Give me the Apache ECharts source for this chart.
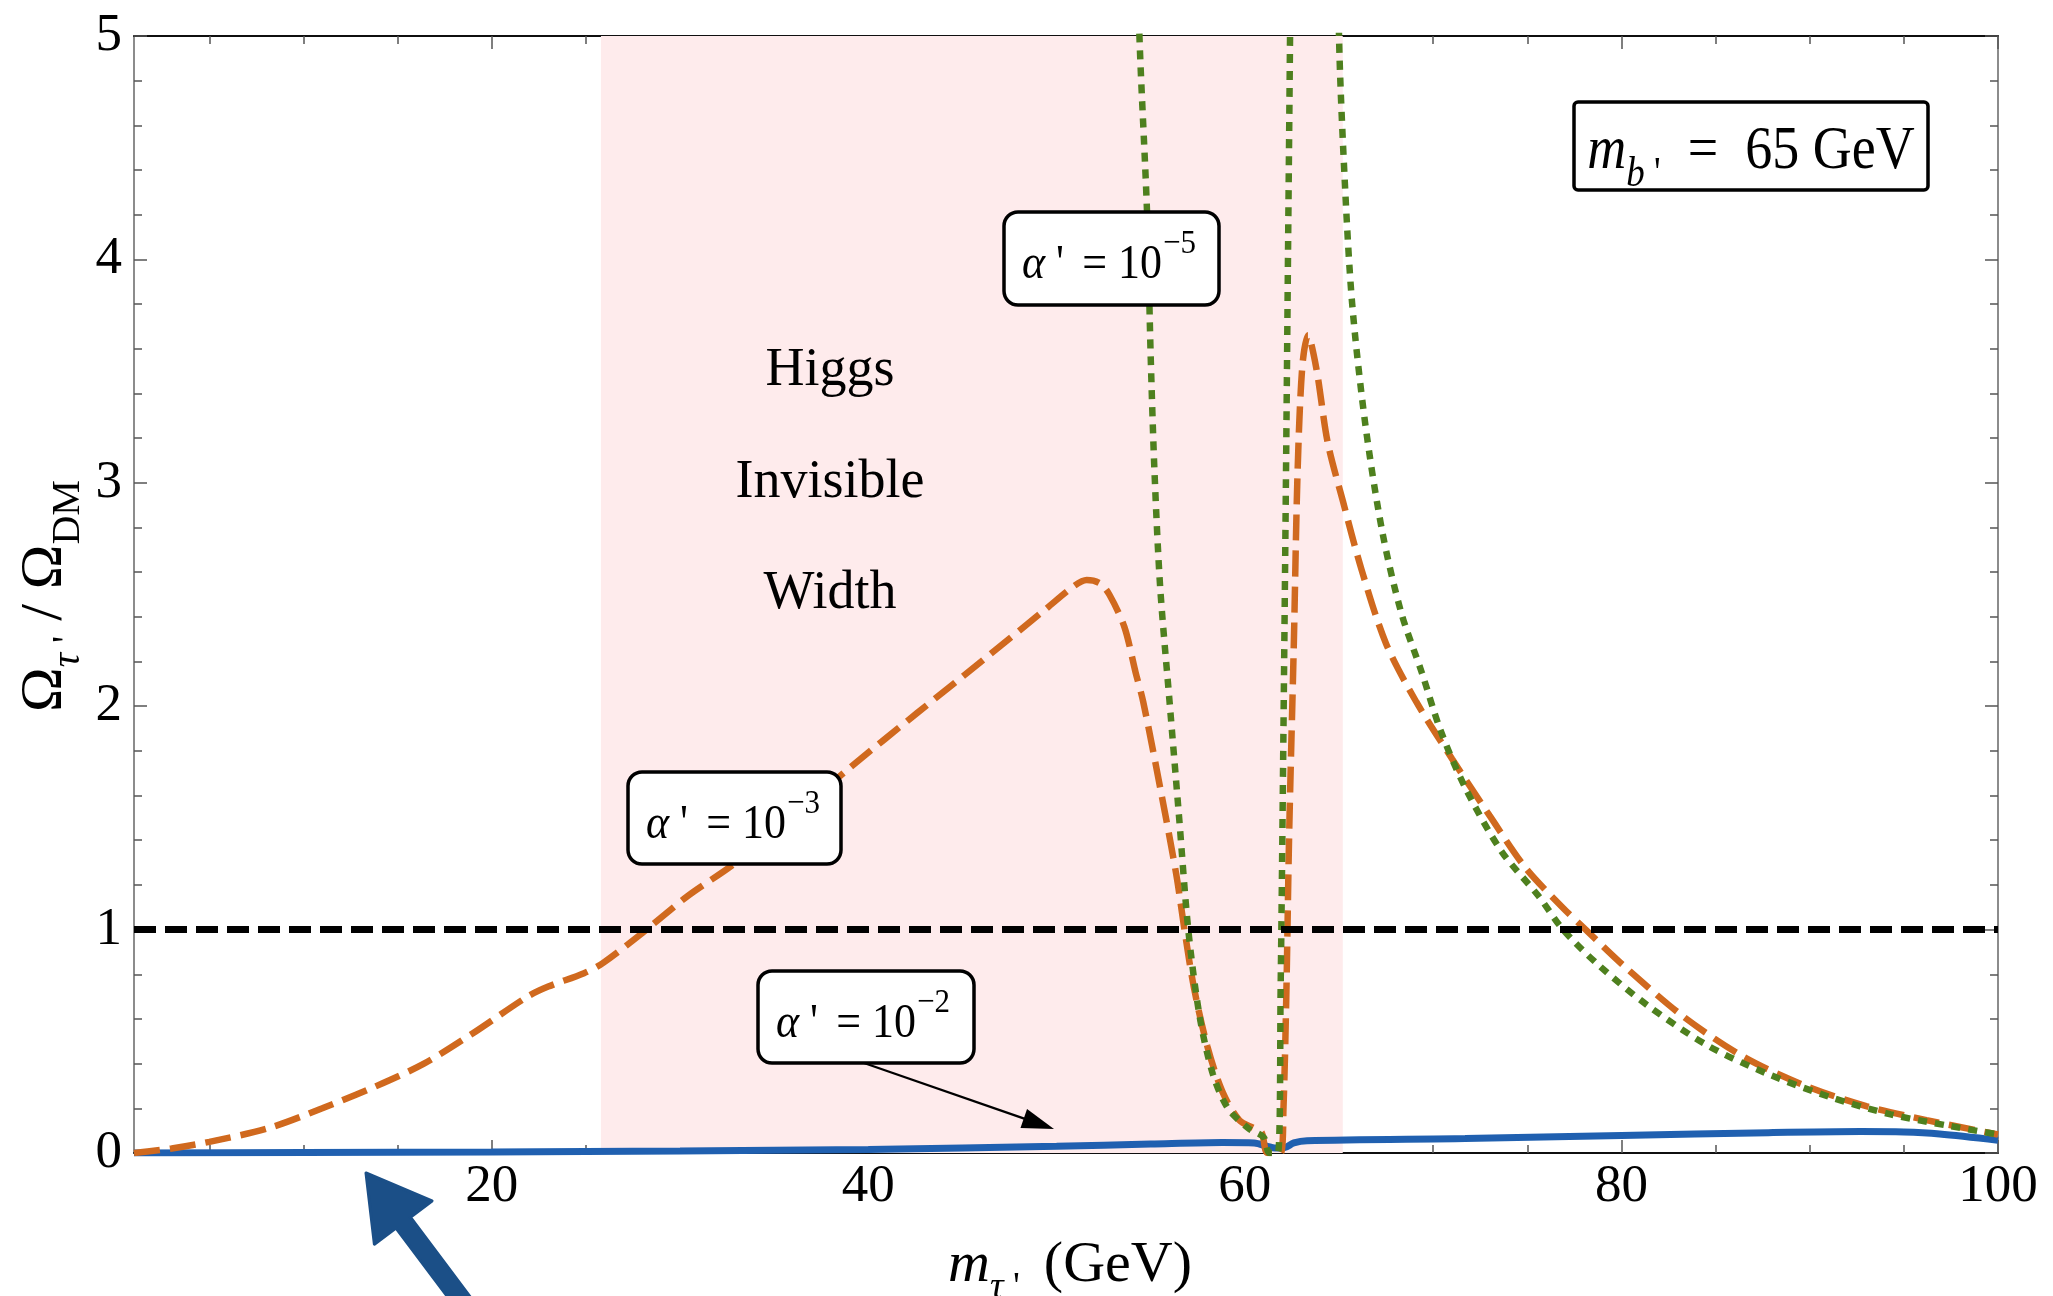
<!DOCTYPE html>
<html><head><meta charset="utf-8">
<script src="https://cdn.jsdelivr.net/npm/echarts@6/dist/echarts.min.js"></script>
<style>html,body{margin:0;padding:0;background:#fff}#c{width:2053px;height:1296px}</style>
</head><body><div id="c"></div>
<script>
// ---------- data ----------
const xRange = [1, 100];
const yRange = [0, 5];
const xMajorTicks = [20, 40, 60, 80, 100];
const xMinorTicks = [5, 10, 15, 25, 30, 35, 45, 50, 55, 65, 70, 75, 85, 90, 95];
const yTickInterval = 1;
const higgsBand = [25.8, 65.2];
const thresholdX = [1, 100];
const thresholdY = [1, 1];

// alpha' = 1e-2 (solid blue)
const alpha2X = [1, 10, 20, 30, 40, 50, 55, 58.8, 60.5, 61.2, 61.6, 62.1, 62.6, 63.3, 71.7, 80, 87.8, 92.7, 95, 96.9, 100];
const alpha2Y = [0, 0.002, 0.005, 0.009, 0.016, 0.03, 0.04, 0.047, 0.045, 0.03, 0.022, 0.024, 0.045, 0.055, 0.065, 0.078, 0.091, 0.096, 0.094, 0.085, 0.057];

// alpha' = 1e-3 (dashed orange)
const alpha3X = [1, 3, 5, 8.1, 11, 13.8, 16.4, 19, 21.9, 23, 24.9, 25.9, 28, 30.4, 32.8, 35.6, 39.1, 42.6, 46, 49.5, 50.8, 51.6, 52.3, 52.8, 53.6, 54.2, 54.6, 55.5, 56.35, 56.8, 57.3, 58, 58.8, 59.7, 60.5, 60.9, 61.2, 61.9, 62.05, 62.2, 62.35, 62.6, 62.8, 63.05, 63.35, 63.8, 64.4, 65.2, 66.2, 67.5, 69.1, 71, 73, 74.9, 76.9, 78.1, 80.1, 83.3, 86.5, 89.8, 93, 96.2, 100];
const alpha3Y = [0, 0.02, 0.05, 0.11, 0.2, 0.297, 0.40, 0.536, 0.70, 0.745, 0.805, 0.85, 0.985, 1.15, 1.29, 1.48, 1.73, 1.97, 2.20, 2.44, 2.53, 2.565, 2.55, 2.50, 2.355, 2.15, 2.02, 1.636, 1.25, 0.995, 0.738, 0.48, 0.276, 0.147, 0.11, 0.09, 0.0, 0.0, 0.2, 0.7, 1.42, 2.28, 3.05, 3.52, 3.66, 3.51, 3.18, 2.92, 2.61, 2.28, 2.02, 1.765, 1.51, 1.277, 1.097, 1.0, 0.84, 0.61, 0.43, 0.30, 0.21, 0.147, 0.083];

// alpha' = 1e-5 (dotted green)
const alpha5X = [54.1, 54.4, 54.8, 55.0, 55.2, 55.5, 56.0, 56.5, 57.0, 57.6, 58.3, 59.1, 60.2, 61.0, 61.3, 61.75, 61.9, 62.05, 62.18, 62.3, 62.4, 62.5, 64.9, 65.0, 65.3, 65.7, 66.4, 67.3, 68.3, 69.4, 70.4, 71.7, 73.6, 75.6, 76.9, 78.8, 81.4, 84.6, 87.8, 91.1, 94.3, 97.5, 100];
const alpha5Y = [6.0, 5.0, 4.22, 3.56, 3.05, 2.535, 2.02, 1.51, 0.995, 0.61, 0.353, 0.2, 0.11, 0.07, 0.0, 0.0, 0.74, 1.9, 3.0, 4.1, 5.0, 6.0, 6.0, 5.0, 4.36, 3.8, 3.26, 2.78, 2.42, 2.15, 1.89, 1.636, 1.354, 1.15, 1.0, 0.84, 0.66, 0.48, 0.353, 0.25, 0.173, 0.12, 0.083];

const bandLabel = ['Higgs', 'Invisible', 'Width'];
const curveLabels = ['−2', '−3', '−5'];

// ---------- chart ----------
const FONT = "'Liberation Serif','Times New Roman',serif";
const zip = (xs, ys) => xs.map((x, i) => [x, ys[i]]);
const chart = echarts.init(document.getElementById('c'), null, {renderer: 'canvas'});

function xAx(pos, ticks, len, label, lineColor) {
  return {
    type: 'value', position: pos, min: xRange[0], max: xRange[1],
    axisLine: {show: true, onZero: false, lineStyle: {color: lineColor, width: 1.5}},
    axisTick: {show: true, inside: true, length: len, customValues: ticks, lineStyle: {color: '#555', width: 1.5}},
    axisLabel: label ? {show: true, customValues: ticks, fontSize: 53, fontFamily: FONT, color: '#000', margin: 8} : {show: false},
    splitLine: {show: false}
  };
}
function yAx(pos, label, lineColor) {
  return {
    type: 'value', position: pos, min: yRange[0], max: yRange[1], interval: yTickInterval,
    axisLine: {show: true, onZero: false, lineStyle: {color: lineColor, width: 1.5}},
    axisTick: {show: true, inside: true, length: 13, lineStyle: {color: '#555', width: 1.5}},
    minorTick: {show: true, splitNumber: 5, length: 8, lineStyle: {color: '#555', width: 1.5}},
    axisLabel: label ? {show: true, fontSize: 53, fontFamily: FONT, color: '#000', margin: 12} : {show: false},
    splitLine: {show: false}, minorSplitLine: {show: false}
  };
}

const G = {left: 134, right: 55, top: 36, bottom: 143};

// label box helper (pixel annotation), returns flat elements
let uid = 0;
function alphaBox(L, T, W, H, exp) {
  uid++;
  const sy = 1.1;
  return [
    {id: 'bx' + uid, type: 'rect', z: 100, shape: {x: L, y: T, width: W, height: H, r: 14},
     style: {fill: '#ffffff', stroke: '#000000', lineWidth: 3.5}},
    {id: 'ba' + uid, type: 'text', z: 101, x: L + 18, y: T + 53, scaleY: sy,
     style: {text: 'α', align: 'left', verticalAlign: 'middle', font: 'italic 44px ' + FONT, fill: '#000'}},
    {id: 'bp' + uid, type: 'text', z: 101, x: L + 52, y: T + 53, scaleY: sy,
     style: {text: "'", align: 'left', verticalAlign: 'middle', font: '44px ' + FONT, fill: '#000'}},
    {id: 'bt' + uid, type: 'text', z: 101, x: L + 158, y: T + 53, scaleY: sy,
     style: {text: '= 10', align: 'right', verticalAlign: 'middle', font: '44px ' + FONT, fill: '#000'}},
    {id: 'bs' + uid, type: 'text', z: 101, x: L + 159, y: T + 32, scaleY: sy,
     style: {text: exp, align: 'left', verticalAlign: 'middle', font: '31px ' + FONT, fill: '#000'}}
  ];
}
function arrow(x1, y1, x2, y2, headLen, headHalf, color, lw) {
  const dx = x2 - x1, dy = y2 - y1, L = Math.hypot(dx, dy), ux = dx / L, uy = dy / L;
  const bx = x2 - ux * headLen, by = y2 - uy * headLen;
  return [
    {type: 'line', z: 100, shape: {x1, y1, x2: bx + ux * 2, y2: by + uy * 2}, style: {stroke: color, lineWidth: lw}},
    {type: 'polygon', z: 100, shape: {points: [[x2, y2], [bx - uy * headHalf, by + ux * headHalf], [bx + uy * headHalf, by - ux * headHalf]]}, style: {fill: color}}
  ];
}
function bigArrow() {
  // decorative blue arrow below the axis
  const tip = [366, 1173], u = [0.6, 0.8], p = [0.8, -0.6];
  const hl = 62, hw = 36, sw = 9, tail = 115;
  const b = [tip[0] + u[0] * hl, tip[1] + u[1] * hl];
  const e = [b[0] + u[0] * tail, b[1] + u[1] * tail];
  const pts = [tip,
    [b[0] + p[0] * hw, b[1] + p[1] * hw],
    [b[0] + p[0] * sw, b[1] + p[1] * sw],
    [e[0] + p[0] * sw, e[1] + p[1] * sw],
    [e[0] - p[0] * sw, e[1] - p[1] * sw],
    [b[0] - p[0] * sw, b[1] - p[1] * sw],
    [b[0] - p[0] * hw, b[1] - p[1] * hw]];
  return {type: 'polygon', z: 100, shape: {points: pts}, style: {fill: '#1B4F87', stroke: '#1B4F87', lineWidth: 3, lineJoin: 'round'}};
}

function richSet(big, small, pad) {
  return {
    o: {fontFamily: FONT, fontSize: big, lineHeight: big, fill: '#000', verticalAlign: 'bottom', padding: [0, 0, pad, 0]},
    oi: {fontFamily: FONT, fontStyle: 'italic', fontSize: big, lineHeight: big, fill: '#000', verticalAlign: 'bottom', padding: [0, 0, pad, 0]},
    s: {fontFamily: FONT, fontSize: small, lineHeight: small, fill: '#000', verticalAlign: 'bottom'},
    si: {fontFamily: FONT, fontStyle: 'italic', fontSize: small, lineHeight: small, fill: '#000', verticalAlign: 'bottom'}
  };
}

const graphics = [
  ...bandLabel.map((t, i) => ({type: 'text', z: 50, x: 830, y: 371 + i * 111.5,
    style: {text: t, align: 'center', verticalAlign: 'middle', font: '54px ' + FONT, fill: '#000'}})),
  ...alphaBox(1004, 212, 215, 93, curveLabels[2]),
  ...alphaBox(628, 772, 213, 92, curveLabels[1]),
  ...alphaBox(758, 971, 216, 92, curveLabels[0]),
  ...arrow(864, 1063, 1054, 1129, 32, 10, '#000', 2.2),
  {type: 'rect', z: 100, shape: {x: 1574, y: 102, width: 354, height: 88, r: 4}, style: {fill: '#fff', stroke: '#000', lineWidth: 3.5}},
  {type: 'text', z: 101, x: 1751, y: 166, scaleY: 1.12,
   style: {text: "{oi|m}{si|b}{s| '}{o|  =  65 GeV}", align: 'center', verticalAlign: 'middle', rich: richSet(54, 37, 12)}},
  {type: 'text', z: 100, x: 58, y: 596, rotation: Math.PI / 2,
    style: {text: "{o|Ω}{si|τ}{s| '}{o| / Ω}{s|DM}", align: 'center', verticalAlign: 'middle', rich: richSet(60, 40, 13)}},
  {type: 'text', z: 100, x: 1070, y: 1278,
    style: {text: "{oi|m}{si|τ}{s| ' }{o| (GeV)}", align: 'center', verticalAlign: 'middle', rich: richSet(58, 38, 12)}},
  bigArrow()
];

const option = {
  backgroundColor: '#fff',
  animation: false,
  grid: G,
  xAxis: [
    xAx('bottom', xMajorTicks, 13, true, '#000'),
    xAx('bottom', xMinorTicks, 8, false, '#000'),
    xAx('top', xMajorTicks, 13, false, '#000'),
    xAx('top', xMinorTicks, 8, false, '#000')
  ],
  yAxis: [yAx('left', true, '#666'), yAx('right', false, '#666')],
  series: [
    {name: 'band', type: 'line', data: [], xAxisIndex: 0, yAxisIndex: 0, silent: true,
     markArea: {silent: true, itemStyle: {color: '#FEEBEC', opacity: 1}, data: [[{xAxis: higgsBand[0]}, {xAxis: higgsBand[1]}]]}, z: 1},
    {name: "α'=1e-2", type: 'line', data: zip(alpha2X, alpha2Y), showSymbol: false, symbol: 'none', smooth: 0.3, clip: true,
     lineStyle: {color: '#2060B0', width: 7}, z: 3},
    {name: "α'=1e-3", type: 'line', data: zip(alpha3X, alpha3Y), showSymbol: false, symbol: 'none', smooth: 0.3, clip: true,
     lineStyle: {color: '#D0691E', width: 6.5, type: [26, 10]}, z: 4},
    {name: "α'=1e-5", type: 'line', data: zip(alpha5X, alpha5Y), showSymbol: false, symbol: 'none', smooth: 0.3, clip: true,
     lineStyle: {color: '#4E801E', width: 6.5, type: [9, 8]}, z: 5},
    {name: 'DM', type: 'line', data: zip(thresholdX, thresholdY), showSymbol: false, symbol: 'none', clip: true,
     lineStyle: {color: '#000', width: 7, type: [22, 9]}, z: 6}
  ],
  graphic: graphics
};
chart.setOption(option);
</script>
</body></html>
